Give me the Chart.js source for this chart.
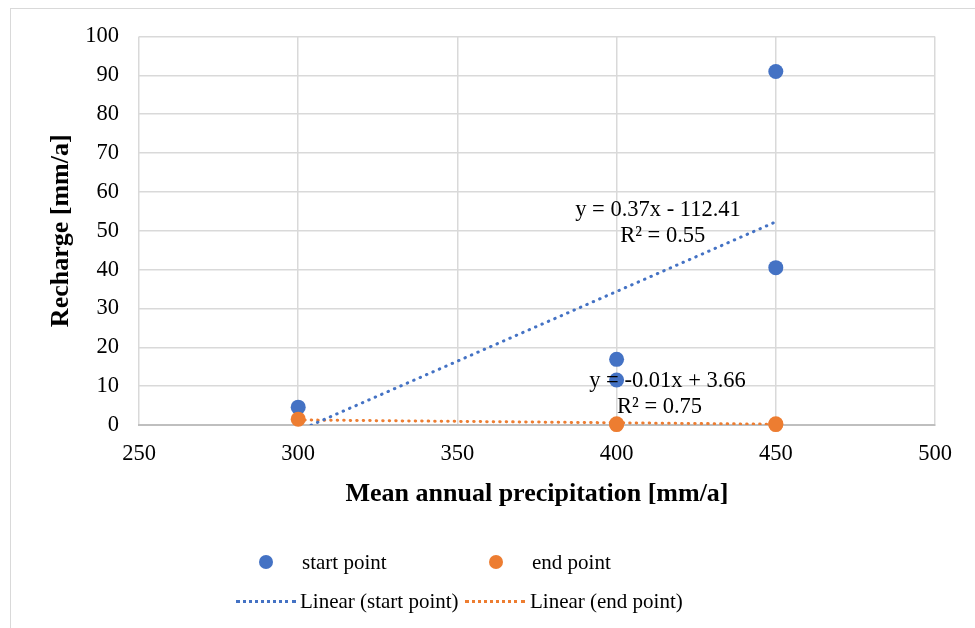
<!DOCTYPE html>
<html>
<head>
<meta charset="utf-8">
<script src="https://cdn.jsdelivr.net/npm/chart.js@4/dist/chart.umd.min.js"></script>
<style>
  html, body { margin: 0; padding: 0; background: #fff; }
  #wrap { position: relative; width: 975px; height: 628px; overflow: hidden; font-family: "Liberation Serif", "Times New Roman", serif; }
  #frame { position: absolute; left: 10px; top: 8px; width: 990px; height: 650px; border: 1.5px solid #d9d9d9; box-sizing: border-box; }
  #chart { position: absolute; left: 0; top: 3px; }
  .lg { position: absolute; font-size: 21px; color: #000; line-height: 24px; white-space: nowrap; }
  .dot { position: absolute; width: 14px; height: 14px; border-radius: 50%; }
  .dash { position: absolute; width: 60px; height: 0; border-top: 3px dotted; }
</style>
</head>
<body>
<div id="wrap">
  <div id="frame"></div>
  <canvas id="chart" width="975" height="625"></canvas>
  <div class="dot" style="left:259px; top:555px; background:#4472c4;"></div>
  <div class="lg" style="left:302px; top:550px;">start point</div>
  <div class="dot" style="left:489px; top:555px; background:#ed7d31;"></div>
  <div class="lg" style="left:532px; top:550px;">end point</div>
  <div class="dash" style="left:236px; top:600px; border-color:#4472c4;"></div>
  <div class="lg" style="left:300px; top:589px;">Linear (start point)</div>
  <div class="dash" style="left:465px; top:600px; border-color:#ed7d31;"></div>
  <div class="lg" style="left:530px; top:589px;">Linear (end point)</div>
</div>
<script>
// values
const startX = [300, 400, 400, 450, 450];
const startY = [4.6, 16.9, 11.6, 91.0, 40.5];
const endX = [300, 400, 400, 450, 450];
const endY = [1.5, 0.3, 0.1, 0.3, 0.1];

// trendline ends (x from 300 to 450), as drawn in the reference
const trendX = [300, 450];
const startTrendY = [-1.5, 52.3];
const endTrendY = [1.3, 0.2];

// equation labels, placed in data coordinates
const trendLabels = [
  { text: 'y = 0.37x - 112.41', x: 413, y: 55.2 },
  { text: 'R² = 0.55', x: 414.5, y: 48.5 },
  { text: 'y = -0.01x + 3.66', x: 416, y: 11.3 },
  { text: 'R² = 0.75', x: 413.5, y: 4.6 },
];

const BLUE = '#4472c4';
const ORANGE = '#ed7d31';
const FONT = '"Liberation Serif", "Times New Roman", serif';

const pts = (xs, ys) => xs.map((x, i) => ({ x, y: ys[i] }));

const labelPlugin = {
  id: 'trendLabels',
  afterDatasetsDraw(chart) {
    const { ctx, scales } = chart;
    ctx.save();
    ctx.font = '22.5px ' + FONT;
    ctx.fillStyle = '#000';
    ctx.textAlign = 'center';
    ctx.textBaseline = 'middle';
    trendLabels.forEach(l => {
      ctx.fillText(l.text, scales.x.getPixelForValue(l.x), scales.y.getPixelForValue(l.y));
    });
    ctx.restore();
  }
};

new Chart(document.getElementById('chart'), {
  type: 'scatter',
  data: {
    datasets: [
      {
        label: 'Linear (start point)',
        type: 'line',
        data: pts(trendX, startTrendY),
        borderColor: BLUE,
        borderWidth: 3,
        borderDash: [0.5, 6.5],
        borderCapStyle: 'round',
        pointRadius: 0,
        fill: false,
        order: 3,
      },
      {
        label: 'Linear (end point)',
        type: 'line',
        data: pts(trendX, endTrendY),
        borderColor: ORANGE,
        borderWidth: 3,
        borderDash: [0.5, 6],
        borderCapStyle: 'round',
        pointRadius: 0,
        fill: false,
        order: 4,
      },
      {
        label: 'start point',
        data: pts(startX, startY),
        backgroundColor: BLUE,
        borderWidth: 0,
        pointRadius: 7.5,
        clip: false,
        order: 2,
      },
      {
        label: 'end point',
        data: pts(endX, endY),
        backgroundColor: ORANGE,
        borderWidth: 0,
        pointRadius: 7.5,
        clip: false,
        order: 1,
      },
    ]
  },
  options: {
    responsive: false,
    animation: false,
    layout: { padding: { left: 40, top: 30, right: 40, bottom: 118 } },
    plugins: { legend: { display: false }, tooltip: { enabled: false } },
    scales: {
      x: {
        type: 'linear',
        min: 250, max: 500,
        ticks: { stepSize: 50, color: '#000', padding: 16, font: { family: FONT, size: 22.5 } },
        grid: { color: '#d9d9d9', lineWidth: 1.5, drawTicks: false },
        border: { color: '#bfbfbf', width: 2 },
        title: { display: true, text: 'Mean annual precipitation [mm/a]', color: '#000',
                 font: { family: FONT, size: 26, weight: 'bold' }, padding: { top: 2, bottom: 0 } },
        afterFit: s => { s.height = 85; },
      },
      y: {
        min: 0, max: 100,
        ticks: { stepSize: 10, color: '#000', padding: 20, font: { family: FONT, size: 22.5 } },
        grid: { color: '#d9d9d9', lineWidth: 1.5, drawTicks: false },
        border: { display: false },
        title: { display: true, text: 'Recharge [mm/a]', color: '#000',
                 font: { family: FONT, size: 26, weight: 'bold' }, padding: { top: 6, bottom: 0 } },
        afterFit: s => { s.width = 99; },
      }
    }
  },
  plugins: [labelPlugin]
});
</script>
</body>
</html>
